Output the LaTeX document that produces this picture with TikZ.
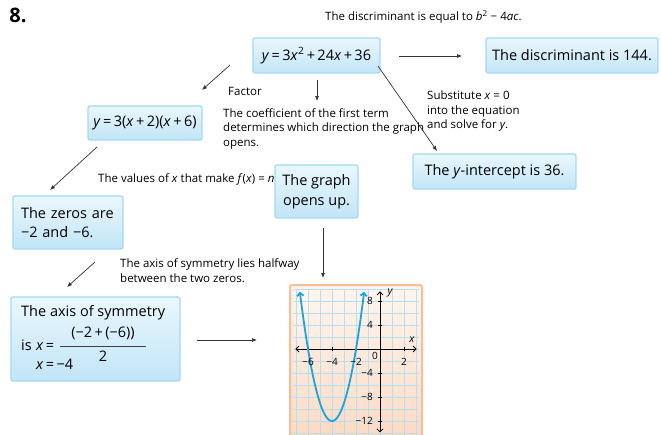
\documentclass[tikz,border=0pt]{standalone}
\usepackage{fontspec}
\setmainfont{Open Sans}
\usetikzlibrary{arrows.meta}
\definecolor{boxborder}{HTML}{A3D9F3}
\definecolor{boxtop}{HTML}{EAF7FD}
\definecolor{boxbot}{HTML}{C2E5F7}
\definecolor{frameor}{HTML}{F7BE98}
\definecolor{paneltop}{HTML}{FFF6EF}
\definecolor{panelbot}{HTML}{FCD9C1}
\definecolor{gridblue}{HTML}{B5DFF4}
\definecolor{parcol}{HTML}{1CA4DE}
\definecolor{arrcol}{HTML}{333333}
\begin{document}
\begin{tikzpicture}[x=1pt,y=-1pt,
  bx/.style={draw=boxborder, line width=1.3pt, rounded corners=2pt, top color=boxtop, bottom color=boxbot, inner sep=0pt, font=\fontsize{14.5}{19.5}\selectfont},
  boxtxt/.style={inner sep=0pt, font=\fontsize{14.5}{19.5}\selectfont},
  lbl/.style={font=\fontsize{11.5}{14.5}\selectfont, inner sep=0pt, align=left},
  glbl/.style={font=\fontsize{10}{10}\selectfont, inner sep=0pt},
  arr/.style={draw=arrcol, line width=0.7pt, -{Latex[length=5pt,width=4pt]}},
  axarr/.style={draw=black, line width=0.8pt, {Straight Barb[length=3pt,width=6pt]}-{Straight Barb[length=3pt,width=6pt]}}]
\useasboundingbox (0,0) rectangle (661,434);

% number
\node[font=\fontsize{20}{22}\selectfont\bfseries, inner sep=0pt] (num) at (18,15) {8.};

% boxes
\node[bx, minimum width=127pt, minimum height=35pt] (quad) at (316.5,55.5)
  {\textit{y}\,=\,3\textit{x}\textsuperscript{2}\,+\,24\textit{x}\,+\,36};
\node[bx, minimum width=172pt, minimum height=35pt] (disc) at (572,55.5)
  {The discriminant is 144.};
\node[bx, minimum width=114pt, minimum height=34pt] (fac) at (145,123)
  {\textit{y}\,=\,3(\textit{x}\,+\,2)(\textit{x}\,+\,6)};
\node[bx, minimum width=163pt, minimum height=35pt] (yint) at (494.5,171.5)
  {The \textit{y}-intercept is 36.};
\node[bx, minimum width=110pt, minimum height=53pt, align=left, text width=94pt] (zeros) at (68,222.5)
  {The zeros are\\−2 and −6.};
\node[bx, minimum width=83pt, minimum height=53pt, align=center] (opens) at (316.5,191.5)
  {The graph\\opens up.};
\node[bx, minimum width=169pt, minimum height=84pt] (axis) at (95.5,339) {};
\node[boxtxt, anchor=west] (ax1) at (21,313) {The axis of symmetry};
\node[boxtxt, anchor=west] (ax2) at (21,345) {is};
\node[boxtxt, anchor=west] (ax3) at (36,347) {\textit{x}\,=};
\node[boxtxt] (axnum) at (103,333) {(−2\,+\,(−6))};
\node[boxtxt] (axden) at (103,356) {2};
\draw[line width=0.8pt, draw=black!75] (60,346) -- (146,346);
\node[boxtxt, anchor=west] (ax4) at (36,364) {\textit{x}\,=\,−4};

% labels
\node[lbl, anchor=west] (ldisc) at (325,17) {The discriminant is equal to \textit{b}\textsuperscript{2} − 4\textit{ac}.};
\node[lbl, anchor=west] (lfactor) at (228,91) {Factor};
\node[lbl, anchor=west] (lcoef) at (223,128.5) {The coefficient of the first term\\determines which direction the graph\\opens.};
\node[lbl, anchor=west] (lsub) at (427,111.5) {Substitute \textit{x} = 0\\into the equation\\and solve for \textit{y}.};
\node[lbl, anchor=west] (lval) at (98,179) {The values of \textit{x} that make \textit{f}(\textit{x}) = \textit{n}};
\node[lbl, anchor=west] (lhalf) at (120,270.5) {The axis of symmetry lies halfway\\between the two zeros.};

% arrows
\coordinate (a1s) at (399,56);  \coordinate (a1e) at (462,56);
\coordinate (a2s) at (378,66);  \coordinate (a2e) at (437,151);
\coordinate (a3s) at (317,80);  \coordinate (a3e) at (317,101);
\coordinate (a4s) at (230,65);  \coordinate (a4e) at (202,90);
\coordinate (a5s) at (97,147);  \coordinate (a5e) at (50,190);
\coordinate (a6s) at (323,228); \coordinate (a6e) at (323,278);
\coordinate (a7s) at (95,262);  \coordinate (a7e) at (67,287);
\coordinate (a8s) at (197,340); \coordinate (a8e) at (257,340);
\draw[arr] (a1s) -- (a1e);
\draw[arr] (a2s) -- (a2e);
\draw[arr] (a3s) -- (a3e);
\draw[arr] (a4s) -- (a4e);
\draw[arr] (a5s) -- (a5e);
\draw[arr] (a6s) -- (a6e);
\draw[arr] (a7s) -- (a7e);
\draw[arr] (a8s) -- (a8e);

% graph panel
\draw[draw=frameor, line width=2pt, rounded corners=2pt, top color=paneltop, bottom color=panelbot] (290,285) rectangle (422,445);
\begin{scope}
  \clip (293,289) rectangle (419,445);
  \foreach \gx in {296,308,...,416} \draw[gridblue, line width=0.9pt] (\gx,285) -- (\gx,445);
  \foreach \gy in {289,301,...,445} \draw[gridblue, line width=0.9pt] (290,\gy) -- (425,\gy);
\end{scope}
\begin{scope}[shift={(380,349)}, x=12pt, y=6pt]
  \draw[axarr] (-7.05,0) -- (3.05,0);
  \draw[axarr] (0,-13.9) -- (0,9.6);
  \foreach \t in {-6,-4,-2,2} \draw[line width=0.7pt] (\t,-0.4) -- (\t,0.4);
  \foreach \t in {8,4,-4,-8,-12} \draw[line width=0.7pt] (-0.2,\t) -- (0.2,\t);
  \draw[draw=parcol, line width=1.8pt, {Straight Barb[length=3pt,width=6.5pt]}-{Straight Barb[length=3pt,width=6.5pt]}]
    plot[domain=-6.68:-1.32, samples=80, smooth] (\x, {3*(\x+2)*(\x+6)});
\end{scope}
\node[glbl] (gm6) at (308,362) {−6};
\node[glbl] (gm4) at (332,362) {−4};
\node[glbl] (gm2) at (356,362) {−2};
\node[glbl] (g2) at (404,362) {2};
\node[glbl] (g0) at (375,356) {0};
\node[glbl, font=\fontsize{10.5}{10}\selectfont\itshape] (gx) at (412,340) {x};
\node[glbl, font=\fontsize{10.5}{10}\selectfont\itshape] (gy) at (390,293) {y};
\node[glbl, anchor=east] (g8) at (373,301) {8};
\node[glbl, anchor=east] (g4) at (373,325) {4};
\node[glbl, anchor=east] (gm4y) at (373,373) {−4};
\node[glbl, anchor=east] (gm8y) at (373,397) {−8};
\node[glbl, anchor=east] (gm12y) at (373,421) {−12};
\end{tikzpicture}
\end{document}
